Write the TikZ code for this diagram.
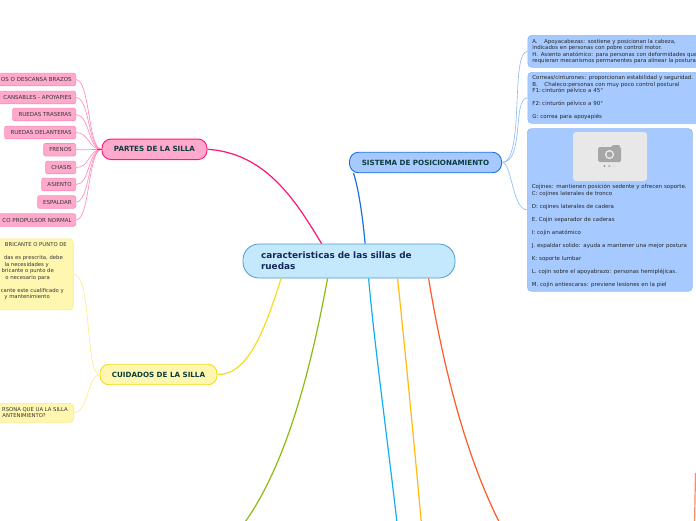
\documentclass[tikz,border=0pt]{standalone}
\usepackage{fontspec}
\setmainfont{DejaVu Sans}
\definecolor{pinkfill}{HTML}{FFAACC}
\definecolor{pinkline}{HTML}{FF1478}
\definecolor{pinkthin}{HTML}{FF8CBC}
\definecolor{yelfill}{HTML}{FFF6B0}
\definecolor{yelstroke}{HTML}{F2DE1E}
\definecolor{yelthin}{HTML}{F9EC8C}
\definecolor{bluefill}{HTML}{A6CAFF}
\definecolor{blueline}{HTML}{1A6FE0}
\definecolor{bluethin}{HTML}{8FBBF8}
\definecolor{cenfill}{HTML}{C4E9FD}
\definecolor{cenline}{HTML}{4A9AD4}
\definecolor{dkgreen}{HTML}{0C3C3C}
\definecolor{navy}{HTML}{15285A}
\definecolor{lkgreen}{HTML}{8ABB10}
\definecolor{lkcyan}{HTML}{10B0F0}
\definecolor{lkorange}{HTML}{FFBB10}
\definecolor{lkred}{HTML}{FF5A26}
\definecolor{lkfar}{HTML}{F58A6C}
\tikzset{
 central/.style={draw=cenline,fill=cenfill,line width=0.8pt,rounded corners=16pt,minimum width=212pt,minimum height=34pt,text width=176pt,align=left,inner xsep=18pt,inner ysep=0pt,text=navy,font=\fontsize{8.9}{11.3}\selectfont\bfseries},
 branch/.style={line width=0.9pt,rounded corners=9pt,minimum height=20.5pt,inner sep=0pt,text=dkgreen,font=\fontsize{7.15}{8}\selectfont\bfseries},
 pk/.style={draw=pinkthin,fill=pinkfill,line width=0.7pt,rounded corners=2pt,anchor=east,minimum height=12.5pt,inner xsep=4pt,inner ysep=0pt,align=right,text=black!80,font=\fontsize{5.5}{6}\selectfont},
 yel/.style={draw=yelthin,fill=yelfill,line width=0.7pt,rounded corners=4pt,anchor=north east,inner sep=0pt},
 yeltext/.style={anchor=east,inner sep=0pt,text=black!80,font=\fontsize{5.3}{6.5}\selectfont},
 bl/.style={draw=bluethin,fill=bluefill,line width=0.7pt,rounded corners=4pt,anchor=north west,inner xsep=4.5pt,inner ysep=0pt,align=left,text=black!85,font=\fontsize{5.5}{6.5}\selectfont},
 mainlink/.style={line width=1.2pt},
 sublink/.style={line width=0.65pt}
}
\begin{document}
\begin{tikzpicture}[x=1pt,y=-1pt]
\useasboundingbox (0,0) rectangle (696,520);
\clip (0,0) rectangle (696,520);
% nodes
\node[central] (cen) at (349,261) {caracteristicas de las sillas de ruedas};
\node[branch,draw=pinkline,fill=pinkfill,minimum width=105pt] (partes) at (154.5,149.3) {PARTES DE LA SILLA};
\node[branch,draw=yelstroke,fill=yelfill,minimum width=117pt] (cuid) at (158.5,374.5) {CUIDADOS DE LA SILLA};
\node[branch,draw=blueline,fill=bluefill,minimum width=152pt] (sist) at (425.5,162.5) {SISTEMA DE POSICIONAMIENTO};

\node[pk,text width=120pt] (p1) at (76,79.5) {OS O DESCANSA BRAZOS};
\node[pk,text width=120pt] (p2) at (76,97.5) {CANSABLES - APOYAPIES};
\node[pk,text width=55pt] (p3) at (76,114.5) {RUEDAS TRASERAS};
\node[pk,text width=63pt] (p4) at (76,132.5) {RUEDAS DELANTERAS};
\node[pk,text width=24pt] (p5) at (76,149.7) {FRENOS};
\node[pk,text width=22pt] (p6) at (76,167.5) {CHASIS};
\node[pk,text width=26pt] (p7) at (76,184.5) {ASIENTO};
\node[pk,text width=30pt] (p8) at (76,202) {ESPALDAR};
\node[pk,text width=120pt] (p9) at (76,220) {CO PROPULSOR NORMAL};

\node[yel,minimum width=100pt,minimum height=71pt] (y1) at (73.5,238.5) {};
\node[yeltext] (y1a) at (67,245) {BRICANTE O PUNTO DE};
\node[yeltext] (y1b) at (63,258) {das es prescrita, debe};
\node[yeltext] (y1c) at (49,265) {la necesidades y};
\node[yeltext] (y1d) at (54,271) {bricante o punto de};
\node[yeltext] (y1e) at (50,278) {o necesario para};
\node[yeltext] (y1f) at (64,291) {cante este cualificado y};
\node[yeltext] (y1g) at (50,297) {y mantenimiento};
\node[yel,minimum width=100pt,minimum height=19pt] (y2) at (74,403) {};
\node[yeltext] (y2a) at (68,409.5) {RSONA QUE UA LA SILLA};
\node[yeltext] (y2b) at (46,416) {ANTENIMIENTO?};

\node[bl,text width=175pt,minimum height=32pt,font=\fontsize{5.42}{6.5}\selectfont] (b1) at (527.5,35) {A.\hspace{1.2em}Apoyacabezas: sostiene y posicionan la cabeza,\\indicados en personas con pobre control motor.\\H.\hspace{0.5em}Asiento anatómico: para personas con deformidades que\\requieran mecanismos permanentes para alinear la postura};
\node[bl,text width=175pt,minimum height=51pt] (b2) at (527.5,72) {Correas/cinturones: proporcionan estabilidad y seguridad.\\B.\hspace{1.2em}Chaleco:personas con muy poco control postural\\F1:\hspace{0.25em}cinturón pélvico a 45°\\\mbox{}\\F2:\hspace{0.25em}cinturón pélvico a 90°\\\mbox{}\\G: correa para apoyapiés};
\node[bl,text width=156pt,minimum height=162.5pt] (b3) at (527,128.3) {\rule{0pt}{56pt}Cojines: mantienen posición sedente y ofrecen soporte.\\C: cojines laterales de tronco\\\mbox{}\\D: cojines laterales de cadera\\\mbox{}\\E. Cojin separador de caderas\\\mbox{}\\I: cojin anatómico\\\mbox{}\\J. espaldar solido: ayuda a mantener una mejor postura\\\mbox{}\\K: soporte lumbar\\\mbox{}\\L. cojin sobre el apoyabrazo: personas hemipléjicas.\\\mbox{}\\M. cojin antiescaras: previene lesiones en la piel};
% image placeholder
\node[fill=black!9,rounded corners=3pt,minimum width=74pt,minimum height=49pt,inner sep=0pt] (ph) at (610,156.5) {};
\fill[black!35,rounded corners=1.5pt] (598,147) rectangle (621,162);
\fill[black!35] (611,147) -- (613,145) -- (619,145) -- (620,147) -- cycle;
\fill[black!9] (609.5,154.5) circle (4.6);
\fill[black!35] (609.5,154.5) circle (3);
\fill[black!40] (604.5,166) circle (1.2);
\fill[black!30] (609.3,166) circle (1.2);
\fill[black!15] (614,166) circle (1.2);
% free ends of the branches that leave the picture
\coordinate (endgreen) at (235,535);
\coordinate (endcyan) at (398.5,535);
\coordinate (endorange) at (422.5,535);
\coordinate (endred) at (506,535);
\coordinate (farA) at (695.5,473);
\coordinate (farB) at (694.5,525);
% main links
\draw[mainlink,pinkline] (partes.east) .. controls (268,153) and (298,205) .. ([xshift=79pt]cen.north west);
\draw[mainlink,blueline] ([xshift=4.5pt]sist.south west) .. controls (359,190) and (363,220) .. ([xshift=122.5pt]cen.north west);
\draw[mainlink,yelstroke] (cuid.east) .. controls (245,375) and (262,340) .. ([xshift=38.5pt]cen.south west);
\draw[mainlink,lkgreen] ([xshift=85pt]cen.south west) .. controls (315,345) and (290,470) .. (endgreen);
\draw[mainlink,lkcyan] ([xshift=126pt]cen.south west) .. controls (374,340) and (385,420) .. (endcyan);
\draw[mainlink,lkorange] ([xshift=155pt]cen.south west) .. controls (404,340) and (412,420) .. (endorange);
\draw[mainlink,lkred] ([xshift=186pt]cen.south west) .. controls (442,360) and (465,460) .. (endred);
\draw[mainlink,lkfar] (farA) -- (farB);
% sub links
\foreach \t/\yy in {p1/80,p2/98,p3/115,p4/133,p5/150,p6/168,p7/185,p8/202,p9/220}{
 \draw[sublink,pinkthin] (partes.west) .. controls (88,149.5) and (90,\yy) .. (\t.east);
}
\draw[line width=1.2pt,pinkline] (partes.west) -- ++(-5,0);
\draw[sublink,yelthin] (cuid.west) .. controls (85,375) and (92,274) .. (y1.east);
\draw[sublink,yelthin] (cuid.west) .. controls (88,375) and (88,412.5) .. (y2.east);
\draw[sublink,bluethin] (sist.east) .. controls (525,162) and (510,51) .. (b1.west);
\draw[sublink,bluethin] (sist.east) .. controls (525,162) and (512,98) .. (b2.west);
\draw[sublink,bluethin] (sist.east) .. controls (512,162) and (512,209) .. (b3.west);
\end{tikzpicture}
\end{document}
